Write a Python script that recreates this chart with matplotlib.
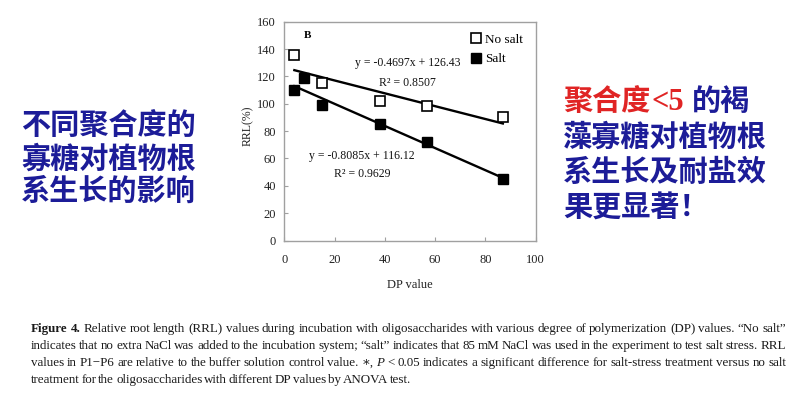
import matplotlib
matplotlib.use("Agg")
import matplotlib.pyplot as plt
from matplotlib.lines import Line2D

# data
dp_nosalt = [4, 15, 38, 57, 87]
rrl_nosalt = [136, 115, 102, 98, 90]
dp_salt = [4, 8, 15, 38, 57, 87]
rrl_salt = [110, 119, 99, 85, 72, 45]
fit_nosalt = (-0.4697, 126.43, 0.8507)
fit_salt = (-0.8085, 116.12, 0.9629)
fit_range = [4, 87]
xticks = [0, 20, 40, 60, 80, 100]
yticks = [0, 20, 40, 60, 80, 100, 120, 140, 160]

left_lines = ["不同聚合度的", "寡糖对植物根", "系生长的影响"]
right_lines = ["藻寡糖对植物根", "系生长及耐盐效", "果更显著！"]

caption = [
    [("Figure 4.", "bold"), (" Relative root length (RRL) values during incubation with oligosaccharides "
      "with various degree of polymerization (DP) values. \u201cNo salt\u201d", "normal")],
    [("indicates that no extra NaCl was added to the incubation system; \u201csalt\u201d indicates that "
      "85 mM NaCl was used in the experiment to test salt stress. RRL", "normal")],
    [("values in P1\u2212P6 are relative to the buffer solution control value. \u2217,", "normal"),
     (" P", "italic"), (" < 0.05 indicates a significant difference for salt-stress treatment "
      "versus no salt", "normal")],
    [("treatment for the oligosaccharides with different DP values by ANOVA test.", "normal")],
]

W, H = 800, 396
BLUE = "#1c1c98"
RED = "#e02424"
SERIF = "Liberation Serif"
SERIFS = ["Liberation Serif", "DejaVu Serif", "DejaVu Sans"]
CJK = ["Noto Sans CJK SC", "DejaVu Sans"]
CAP_FS = 9.35

fig = plt.figure(figsize=(W / 100, H / 100), dpi=100)
fig.patch.set_facecolor("white")
ax = fig.add_axes([284.3 / W, 1 - 240.5 / H, 251.2 / W, 218.8 / H])

ax.plot(dp_nosalt, rrl_nosalt, "s", ms=6.5, mfc="white", mec="black", mew=1.2, zorder=3)
ax.plot(dp_salt, rrl_salt, "s", ms=6.5, mfc="black", mec="black", zorder=3)
for m, b, _ in (fit_nosalt, fit_salt):
    ax.plot(fit_range, [m * x + b for x in fit_range], color="black", lw=1.7, zorder=2)

ax.set_xlim(0, 100)
ax.set_ylim(0, 160)
ax.set_xticks(xticks)
ax.set_yticks(yticks)
for s in ax.spines.values():
    s.set_color("#a0a0a0")
    s.set_linewidth(1.0)
ax.tick_params(direction="in", length=3, color="#a0a0a0", labelsize=9,
               labelcolor="#222222")
ax.tick_params(axis="x", pad=10)
ax.tick_params(axis="y", pad=6)
for lab in ax.get_xticklabels() + ax.get_yticklabels():
    lab.set_fontfamily(SERIF)

ax.set_xlabel("DP value", fontsize=9, family=SERIF, color="#222222")
ax.xaxis.set_label_coords(0.5, -(285 - 240.5) / 218.8)
ax.xaxis.label.set_va("center")
ax.set_ylabel("RRL(%)", fontsize=8.5, family=SERIF, color="#222222")
ax.yaxis.set_label_coords(-(284.3 - 248) / 251.2, 0.525)
ax.yaxis.label.set_va("center")

eq_kw = dict(fontsize=8.5, family=SERIF, ha="center", va="center", color="#111111")
ax.text(49, 130, "y = -0.4697x + 126.43", **eq_kw)
ax.text(49, 115.3, "R\u00b2 = %.4f" % fit_nosalt[2], **eq_kw)
ax.text(31, 62, "y = -0.8085x + 116.12", **eq_kw)
ax.text(31, 48.4, "R\u00b2 = %.4f" % fit_salt[2], **eq_kw)
ax.text(9.3, 150, "B", fontsize=8, family=SERIF, weight="bold", ha="center", va="center")

handles = [Line2D([], [], ls="", marker="s", ms=6.5, mfc="white", mec="black", mew=1.2),
           Line2D([], [], ls="", marker="s", ms=6.5, mfc="black", mec="black")]
ax.legend(handles, ["No salt", "Salt"], loc="upper left", bbox_to_anchor=(0.72, 0.97),
          frameon=False, handlelength=0.8, handletextpad=0.3, labelspacing=0.55,
          borderaxespad=0, prop={"family": SERIF, "size": 9.5})

fig.canvas.draw()
renderer = fig.canvas.get_renderer()


def put(x, y, s, **kw):
    t = fig.text(x / W, 1 - y / H, s, **kw)
    return t, t.get_window_extent(renderer).width


def measure(s, **kw):
    t = fig.text(0, 0, s, **kw)
    w = t.get_window_extent(renderer).width
    t.remove()
    return w


# Chinese blocks
for s, y in zip(left_lines, [126, 158.5, 190.5]):
    put(21, y, s, family=CJK, weight="bold", fontsize=21, color=BLUE, va="center")

x0 = 563
_, w = put(x0, 101, "聚合度", family=CJK, weight="bold", fontsize=21, color=RED, va="center")
_, w2 = put(x0 + w + 1, 102, "<5", family=SERIF, weight="bold", fontsize=22, color=RED, va="center")
put(x0 + w + w2 + 9, 101, "的褐", family=CJK, weight="bold", fontsize=21, color=BLUE, va="center")
for s, y in zip(right_lines, [136.5, 172, 207.5]):
    put(x0, y, s, family=CJK, weight="bold", fontsize=21, color=BLUE, va="center")

# caption, justified like the source
cap_left, cap_right = 31, 786
cap_base = [332, 349, 366, 383]
space = 0.14 * CAP_FS * 100 / 72
for i, (runs, yb) in enumerate(zip(caption, cap_base)):
    words = []
    for text, style in runs:
        for wd in text.split(" "):
            if wd:
                kw = dict(family=SERIFS, fontsize=CAP_FS, color="#1a1a1a", va="baseline")
                if style == "bold":
                    kw["weight"] = "bold"
                if style == "italic":
                    kw["style"] = "italic"
                words.append((wd, kw, measure(wd, **kw)))
    if i < len(caption) - 1:
        gap = (cap_right - cap_left - sum(w for _, _, w in words)) / (len(words) - 1)
    else:
        gap = space
    x = cap_left
    for wd, kw, wdt in words:
        fig.text(x / W, 1 - yb / H, wd, **kw)
        x += wdt + gap

fig.savefig("out.png", dpi=100)
